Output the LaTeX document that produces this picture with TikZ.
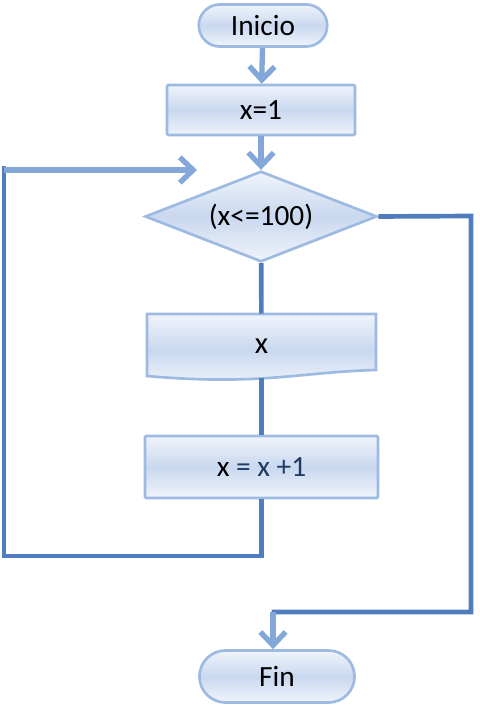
\documentclass[tikz,border=0pt]{standalone}
\usepackage{fontspec}
\setmainfont{Carlito}
\usetikzlibrary{arrows.meta}
\usetikzlibrary{shapes.geometric}
\usetikzlibrary{shapes.misc}
\definecolor{bord}{HTML}{9DBAE2}
\definecolor{haut}{HTML}{F0F4FB}
\definecolor{milieu}{HTML}{C9D8EF}
\definecolor{trait}{HTML}{4F7DBE}
\definecolor{fleche}{HTML}{82A7D8}
\definecolor{encre}{HTML}{1F3B64}

\begin{document}
\begin{tikzpicture}[x=0.75pt,y=-0.75pt]
	\tikzstyle{bloc}=[draw=bord,line width=2pt,top color=haut,bottom color=haut,middle color=milieu,font=\fontsize{22}{26}\selectfont]
	\tikzstyle{terminal}=[bloc,rounded rectangle]
	\tikzstyle{proces}=[bloc,rectangle,rounded corners=1pt]
	\tikzstyle{decision}=[bloc,diamond,aspect=2.55,inner sep=0pt,minimum width=174pt,minimum height=68pt]
	\tikzstyle{ligne}=[draw=trait,line width=3.5pt]
	\tikzstyle{fl}=[draw=fleche,line width=4pt,-{Straight Barb[length=10pt,width=19pt]}]
	\useasboundingbox (0,0) rectangle (479,712);
	\node[terminal,minimum width=103pt,minimum height=31.5pt] (debut) at (263,25.5){Inicio};
	\node[proces,minimum width=141pt,minimum height=37.5pt] (init) at (261,110){x=1};
	\node[decision] (cond) at (261,216.5){(x<=100)};
	% sortie
	\path[bloc] (147,314) -- (376,314) -- (376,370) .. controls (300,372) and (260,386) .. (147,376) -- cycle;
	\node[minimum width=171.75pt,minimum height=48pt,font=\fontsize{23}{27}\selectfont] (sortie) at (261.5,346){x};
	\node[proces,minimum width=174.75pt,minimum height=46.5pt] (incr) at (261.5,467){x {\color{encre}= x +1}};
	\node[terminal,minimum width=123pt,minimum height=39pt] (fin) at (277,676.5){Fin};
	\coordinate (haut) at (4,170);
	\coordinate (entree) at (197,170);
	\coordinate (retour) at (4,556);
	\coordinate (droite) at (471,216);
	\coordinate (bas) at (471,612);
	\draw[fl] (debut) -- (init);
	\draw[fl] (init) -- (cond);
	\draw[ligne] (cond) -- (sortie);
	\draw[ligne] (sortie) -- (incr);
	\draw[ligne] (incr.south) |- (retour) -- ([yshift=3pt]haut);
	\draw[fl] (haut) -- (entree);
	\draw[ligne] (cond.east) -- (droite) -- (bas) -- ([xshift=-4pt]fin.north |- bas);
	\draw[fl] ([xshift=-3pt]fin.north |- bas) -- ([xshift=-3pt]fin.north);
\end{tikzpicture}
\end{document}
